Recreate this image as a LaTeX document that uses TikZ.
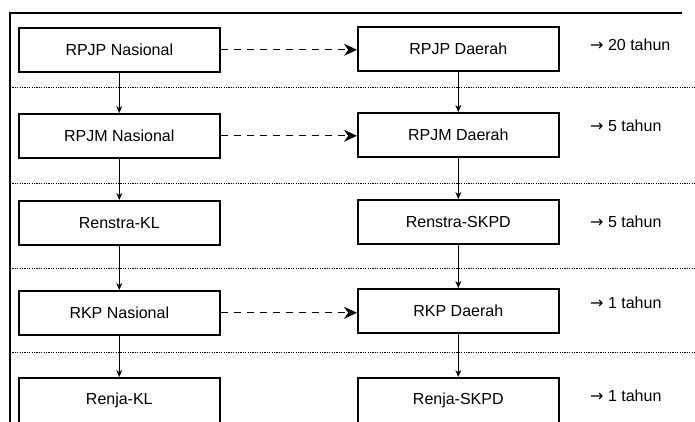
\documentclass[tikz,border=0pt]{standalone}
\usepackage{fontspec}
\setmainfont{Liberation Sans}
\newfontfamily\arrowfont{DejaVu Sans}
\usetikzlibrary{arrows.meta}
\newcommand{\periodarrow}{{\arrowfont →}}
\begin{document}
\begin{tikzpicture}[x=1pt,y=-1pt,
  plan/.style={draw, line width=1.6pt, minimum width=201pt, minimum height=44pt,
    inner sep=0pt, anchor=north west, font=\fontsize{16}{19}\selectfont},
  period/.style={anchor=west, inner sep=0pt, font=\fontsize{16}{19}\selectfont},
  down/.style={line width=0.9pt, -{Stealth[length=7pt,width=6pt]}},
  link/.style={line width=1.2pt, dash pattern=on 7pt off 6pt,
    -{Stealth[length=13pt,width=12pt]}},
  divider/.style={line width=0.9pt, dash pattern=on 1.2pt off 1.2pt}
]
\clip (0,0) rectangle (695,422);
\fill[white] (0,0) rectangle (695,422);

% frame
\draw[line width=1.2pt] (10,422) -- (10,13) -- (682,13);

% period dividers
\foreach \yy in {87,183,268,352}
  \draw[divider] (10,\yy) -- (695,\yy);

% national plans
\node[plan] (n1) at (18,27)  {RPJP Nasional};
\node[plan] (n2) at (18,113) {RPJM Nasional};
\node[plan] (n3) at (18,200) {Renstra-KL};
\node[plan] (n4) at (18,290) {RKP Nasional};
\node[plan, minimum height=46pt] (n5) at (18,377) {Renja-KL};

% regional plans
\node[plan] (d1) at (357,26)  {RPJP Daerah};
\node[plan] (d2) at (357,112) {RPJM Daerah};
\node[plan] (d3) at (357,199) {Renstra-SKPD};
\node[plan] (d4) at (357,288) {RKP Daerah};
\node[plan, minimum height=46pt] (d5) at (357,377) {Renja-SKPD};

% periods
\node[period] (p1) at (590,45)  {\periodarrow\ 20 tahun};
\node[period] (p2) at (590,126) {\periodarrow\ 5 tahun};
\node[period] (p3) at (590,222) {\periodarrow\ 5 tahun};
\node[period] (p4) at (590,303) {\periodarrow\ 1 tahun};
\node[period] (p5) at (590,396) {\periodarrow\ 1 tahun};

% vertical flow
\draw[down] (n1.south) -- (n2.north);
\draw[down] (n2.south) -- (n3.north);
\draw[down] (n3.south) -- (n4.north);
\draw[down] (n4.south) -- (n5.north);
\draw[down] (d1.south) -- (d2.north);
\draw[down] (d2.south) -- (d3.north);
\draw[down] (d3.south) -- (d4.north);
\draw[down] (d4.south) -- (d5.north);

% national to regional
\draw[link] (n1.east) -- (n1.east -| d1.west);
\draw[link] (n2.east) -- (n2.east -| d2.west);
\draw[link] (n4.east) -- (n4.east -| d4.west);
\end{tikzpicture}
\end{document}
